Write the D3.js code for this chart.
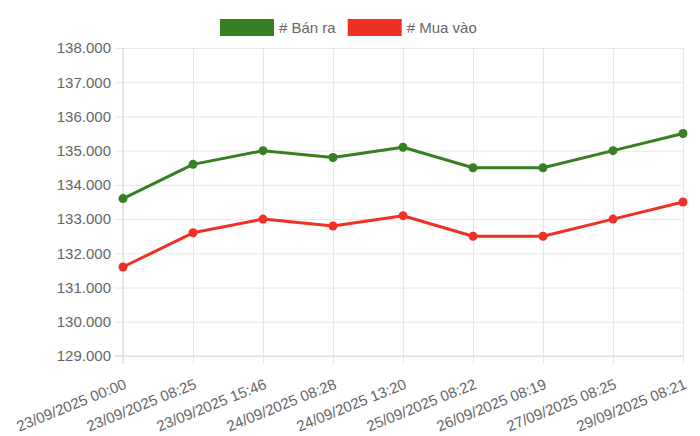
<!DOCTYPE html>
<html lang="vi">
<head>
  <meta charset="UTF-8">
  <title>Giá Bán ra / Mua vào</title>
  <script src="https://d3js.org/d3.v7.min.js"></script>
  <style>
    body { margin: 0; background: #fff; }
    text { font-family: "Liberation Sans", Arial, sans-serif; fill: #666; }
  </style>
</head>
<body>
<script>
// data
const labels = ["23/09/2025 00:00", "23/09/2025 08:25", "23/09/2025 15:46", "24/09/2025 08:28",
  "24/09/2025 13:20", "25/09/2025 08:22", "26/09/2025 08:19", "27/09/2025 08:25", "29/09/2025 08:21"];
const banRa = [133.6, 134.6, 135.0, 134.8, 135.1, 134.5, 134.5, 135.0, 135.5];
const muaVao = [131.6, 132.6, 133.0, 132.8, 133.1, 132.5, 132.5, 133.0, 133.5];
const yTicks = [129, 130, 131, 132, 133, 134, 135, 136, 137, 138];

const series = [
  { name: "# Bán ra", values: banRa, color: "#367f22" },
  { name: "# Mua vào", values: muaVao, color: "#ee3124" }
];

const width = 700, height = 436;
const margin = { top: 48, right: 17, bottom: 80, left: 123 };

const svg = d3.select("body").append("svg")
  .attr("width", width)
  .attr("height", height);

const x = d3.scalePoint()
  .domain(labels)
  .range([margin.left, width - margin.right]);

const y = d3.scaleLinear()
  .domain([129, 138])
  .range([height - margin.bottom, margin.top]);

// ticks look like "138.000"
const tickFmt = d => d.toFixed(0) + ".000";

// horizontal grid + y labels
const yAxis = svg.append("g")
  .attr("transform", `translate(${margin.left},0)`)
  .call(d3.axisLeft(y).tickValues(yTicks).tickFormat(tickFmt)
    .tickSize(-(width - margin.left - margin.right)).tickPadding(0));
yAxis.select(".domain").remove();
yAxis.selectAll(".tick line").attr("stroke", "#e6e6e6").attr("x1", -8);
yAxis.selectAll(".tick text").attr("x", -12).style("font-size", "15px").attr("fill", "#666");

// vertical grid + x labels
const xAxis = svg.append("g")
  .attr("transform", `translate(0,${height - margin.bottom})`)
  .call(d3.axisBottom(x).tickSize(-(height - margin.top - margin.bottom)).tickPadding(0));
xAxis.select(".domain").remove();
xAxis.selectAll(".tick line").attr("stroke", "#e6e6e6").attr("y1", 8);
xAxis.selectAll(".tick text")
  .style("font-size", "15px")
  .attr("fill", "#666")
  .attr("text-anchor", "end")
  .attr("dy", 0)
  .attr("transform", "translate(4,32) rotate(-22)");

// axis borders a bit darker like chart.js
svg.append("line")
  .attr("x1", margin.left).attr("x2", margin.left)
  .attr("y1", margin.top).attr("y2", height - margin.bottom + 8)
  .attr("stroke", "#d9d9d9");
svg.append("line")
  .attr("x1", margin.left - 8).attr("x2", width - margin.right)
  .attr("y1", height - margin.bottom).attr("y2", height - margin.bottom)
  .attr("stroke", "#d9d9d9");

const line = d3.line()
  .x((d, i) => x(labels[i]))
  .y(d => y(d));

series.forEach(s => {
  svg.append("path")
    .datum(s.values)
    .attr("fill", "none")
    .attr("stroke", s.color)
    .attr("stroke-width", 3)
    .attr("stroke-linejoin", "round")
    .attr("d", line);

  svg.selectAll(null)
    .data(s.values)
    .enter().append("circle")
    .attr("cx", (d, i) => x(labels[i]))
    .attr("cy", d => y(d))
    .attr("r", 4.5)
    .attr("fill", s.color);
});

// legend
const legend = svg.append("g");
let lx = 220;
series.forEach(s => {
  legend.append("rect")
    .attr("x", lx).attr("y", 19)
    .attr("width", 54).attr("height", 17)
    .attr("fill", s.color);
  const t = legend.append("text")
    .attr("x", lx + 59).attr("y", 33)
    .style("font-size", "15px")
    .attr("fill", "#666")
    .text(s.name);
  lx += 59 + t.node().getComputedTextLength() + 12;
});
</script>
</body>
</html>
